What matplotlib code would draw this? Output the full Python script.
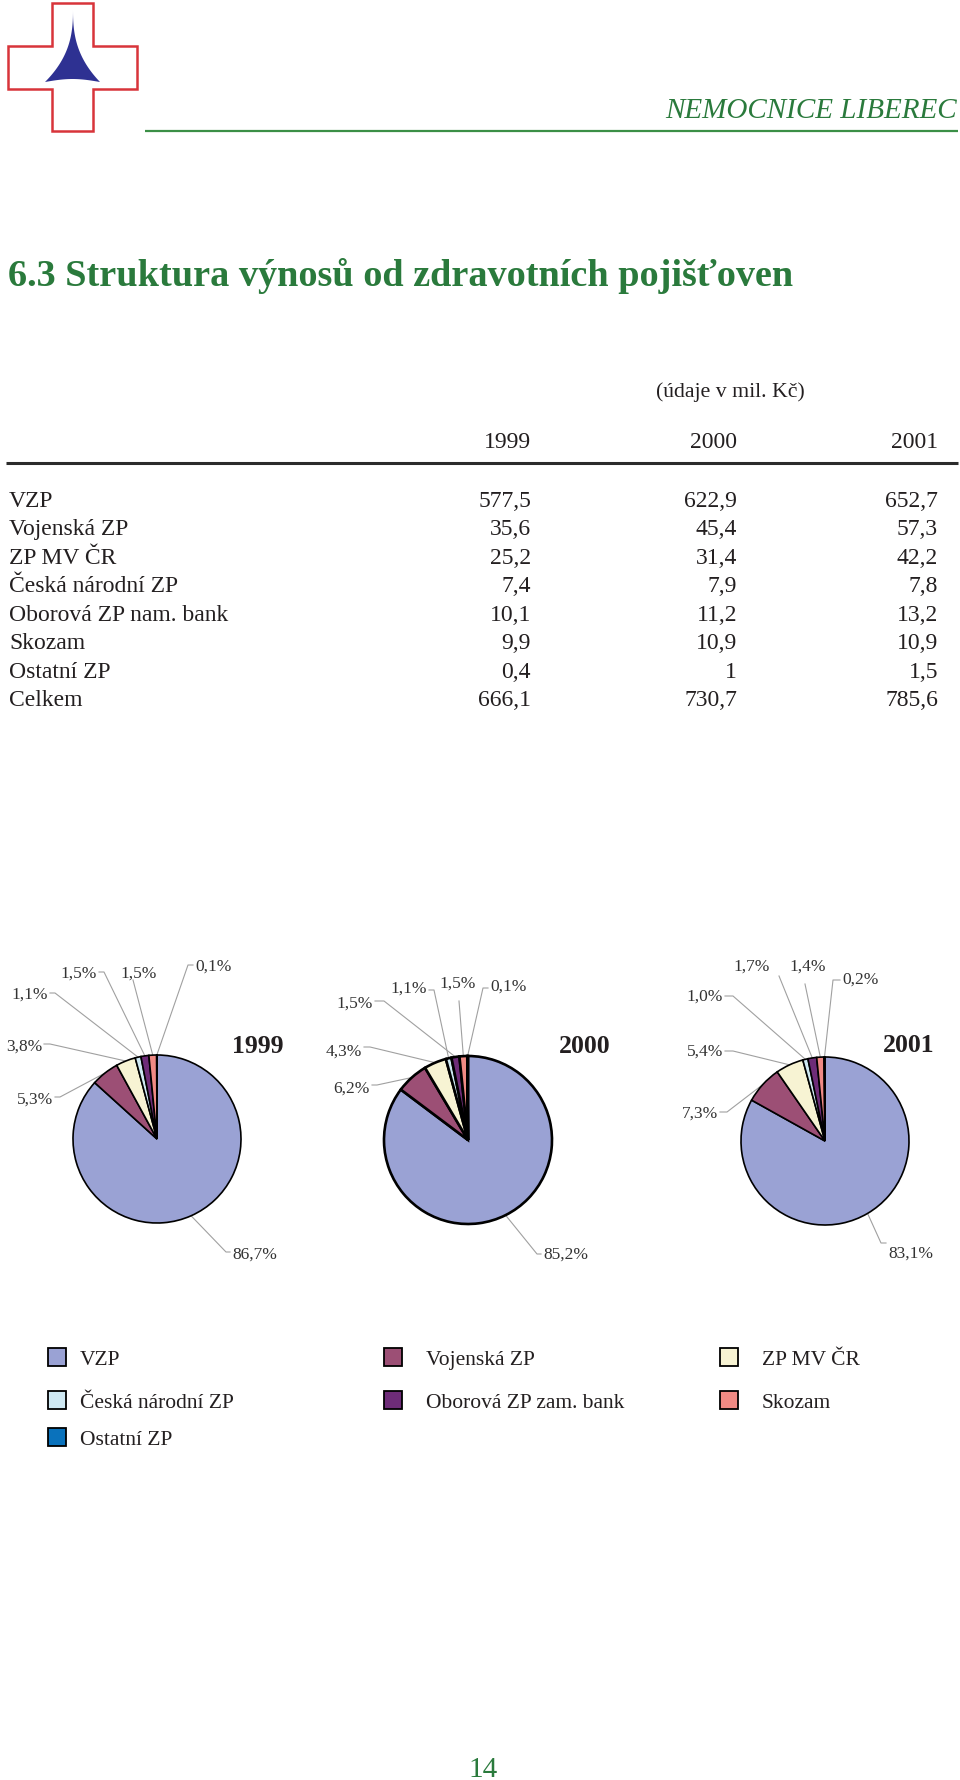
import numpy as np
import matplotlib
matplotlib.use("Agg")
import matplotlib.pyplot as plt
from matplotlib.patches import Polygon, Rectangle

# ---------------- data ----------------
insurers = ["VZP", "Vojenská ZP", "ZP MV ČR", "Česká národní ZP",
            "Oborová ZP nam. bank", "Skozam", "Ostatní ZP"]
legend_names = ["VZP", "Vojenská ZP", "ZP MV ČR", "Česká národní ZP",
                "Oborová ZP zam. bank", "Skozam", "Ostatní ZP"]
years = ["1999", "2000", "2001"]
v1999 = [577.5, 35.6, 25.2, 7.4, 10.1, 9.9, 0.4]
v2000 = [622.9, 45.4, 31.4, 7.9, 11.2, 10.9, 1.0]
v2001 = [652.7, 57.3, 42.2, 7.8, 13.2, 10.9, 1.5]
series = [v1999, v2000, v2001]
total_label = "Celkem"
unit_note = "(údaje v mil. Kč)"
title = "6.3 Struktura výnosů od zdravotních pojišťoven"
header = "NEMOCNICE LIBEREC"
page_no = "14"

colors = ["#9aa2d4", "#9c4f75", "#f7f3d3", "#cfe9f3", "#6e2c78", "#f08a84", "#0a72bc"]

# ---------------- layout (pixel coords, y downward) ----------------
W, H = 960, 1781
def Y(y):
    return H - y

GREEN = "#2a7a3c"
TXT = "#231f20"
SERIF = ["Liberation Serif", "DejaVu Serif"]

pie_centers = [(157, 1140), (468, 1141), (825, 1142)]
pie_r = 84
pie_lw = [1.2, 1.9, 1.2]
year_title_pos = [(258, 1045), (585, 1045), (909, 1044)]

# label layout per pie: (text x, text y, ha, leader start x, leader start y)
label_layout = [
    [(232, 1253, 'left', 226, 1253), (53, 1098, 'right', 60, 1098),
     (42, 1045, 'right', 50, 1045), (48, 993, 'right', 55, 994),
     (97, 972, 'right', 104, 973), (139, 972, 'center', 133, 981),
     (195, 965, 'left', 188, 966)],
    [(543, 1253, 'left', 537, 1255), (370, 1087, 'right', 377, 1086),
     (362, 1050, 'right', 370, 1048), (427, 987, 'right', 434, 991),
     (373, 1002, 'right', 384, 1002), (458, 982, 'center', 459, 1002),
     (490, 985, 'left', 483, 989)],
    [(888, 1252, 'left', 881, 1244), (718, 1112, 'right', 727, 1113),
     (723, 1050, 'right', 733, 1052), (723, 995, 'right', 733, 997),
     (752, 965, 'center', 779, 977), (808, 965, 'center', 805, 985),
     (842, 978, 'left', 833, 981)],
]

def fmt(v):
    return f"{v:g}".replace(".", ",")

def bl(yc, pt):
    # baseline y (pixels, downward) from visual cap-centre y
    return yc + 0.33 * pt * 100 / 72

fig = plt.figure(figsize=(W / 100, H / 100), dpi=100)
ax = fig.add_axes([0, 0, 1, 1])

# ---------------- logo ----------------
cross = [(52, 4), (93, 4), (93, 47), (137, 47), (137, 90), (93, 90), (93, 132),
         (52, 132), (52, 90), (8, 90), (8, 47), (52, 47)]
ax.add_patch(Polygon([(x, Y(y)) for x, y in cross], closed=True, fill=False,
                     edgecolor="#d8343a", linewidth=1.8))
t = np.linspace(0, 1, 60)
base = [(100 - 55 * s, 83 - 3 * np.sin(np.pi * s)) for s in np.linspace(0, 1, 20)]
spire = [(73, 10)] + [(73 + 27 * s ** 2.6, 10 + 73 * s) for s in t] + base + \
        [(73 - 28 * s ** 2.6, 10 + 73 * s) for s in t[::-1]]
ax.add_patch(Polygon([(x, Y(y)) for x, y in spire], closed=True,
                     facecolor="#2e3192", edgecolor="none"))

# header
HPT = 21
ax.text(957, Y(bl(108, HPT)), header, ha="right", va="baseline", fontsize=HPT,
        style="italic", family=SERIF, color=GREEN)
ax.plot([145, 958], [Y(132), Y(132)], color="#3b8f46", lw=1.6, solid_capstyle="butt")

# title
TTL = 27.5
ax.text(8, Y(bl(273, TTL)), title, ha="left", va="baseline", fontsize=TTL,
        fontweight="bold", family=SERIF, color=GREEN)

# ---------------- table ----------------
TPT = 17
ax.text(805, Y(bl(390, 15.7)), unit_note, ha="right", va="baseline", fontsize=15.7,
        family=SERIF, color=TXT)
col_right = [531, 737, 938]
for xr, yr in zip(col_right, years):
    ax.text(xr, Y(bl(440, TPT)), yr, ha="right", va="baseline", fontsize=TPT,
            family=SERIF, color=TXT)
ax.plot([6, 958], [Y(464), Y(464)], color="#2b2b2b", lw=2.2, solid_capstyle="butt")

row_y = [499, 527, 556, 584, 613, 641, 670, 698]
names = insurers + [total_label]
for i, nm in enumerate(names):
    ax.text(9, Y(bl(row_y[i], TPT)), nm, ha="left", va="baseline", fontsize=TPT,
            family=SERIF, color=TXT)
for xr, vals in zip(col_right, series):
    col = list(vals) + [round(sum(vals), 1)]
    for i, v in enumerate(col):
        ax.text(xr, Y(bl(row_y[i], TPT)), fmt(v), ha="right", va="baseline",
                fontsize=TPT, family=SERIF, color=TXT)

# ---------------- pies ----------------
LPT = 12.5
for k, vals in enumerate(series):
    cx, cy = pie_centers[k]
    wedges, _ = ax.pie(vals, colors=colors, startangle=90, counterclock=False,
                       radius=pie_r, center=(cx, Y(cy)),
                       wedgeprops=dict(edgecolor="black", linewidth=pie_lw[k]))
    tot = sum(vals)
    for i, w in enumerate(wedges):
        ang = np.deg2rad((w.theta1 + w.theta2) / 2)
        px = w.center[0] + w.r * np.cos(ang)
        py = w.center[1] + w.r * np.sin(ang)
        tx, ty, ha, sx, sy = label_layout[k][i]
        txt = f"{100 * vals[i] / tot:.1f}".replace(".", ",") + "%"
        ax.text(tx, Y(bl(ty, LPT)), txt, ha=ha, va="baseline", fontsize=LPT,
                family=SERIF, color="#333333")
        if ha == "right":
            xs, ys = [tx + 2, sx, px], [Y(sy), Y(sy), py]
        elif ha == "left":
            xs, ys = [tx - 2, sx, px], [Y(sy), Y(sy), py]
        else:
            xs, ys = [sx, px], [Y(sy), py]
        ax.plot(xs, ys, color="#a0a0a0", lw=0.8, zorder=0.5)
    yx, yy = year_title_pos[k]
    ax.text(yx, Y(bl(yy, 18.5)), years[k], ha="center", va="baseline",
            fontsize=18.5, fontweight="bold", family=SERIF, color=TXT)

# ---------------- legend ----------------
LGPT = 15.5
leg_cols = [(48, 80), (384, 426), (720, 762)]
leg_rows = [1358, 1401, 1438]
for i, nm in enumerate(legend_names):
    r, c = divmod(i, 3)
    sqx, tx = leg_cols[c]
    yc = leg_rows[r]
    ax.add_patch(Rectangle((sqx, Y(yc + 9)), 18, 18, facecolor=colors[i],
                           edgecolor="black", linewidth=1.3))
    ax.text(tx, Y(bl(yc, LGPT)), nm, ha="left", va="baseline", fontsize=LGPT,
            family=SERIF, color=TXT)

# page number
ax.text(483, Y(bl(1767, 21)), page_no, ha="center", va="baseline", fontsize=21,
        family=SERIF, color=GREEN)

ax.set_xlim(0, W)
ax.set_ylim(0, H)
ax.set_aspect("auto")
ax.axis("off")
fig.savefig("out.png", dpi=100, facecolor="white")
